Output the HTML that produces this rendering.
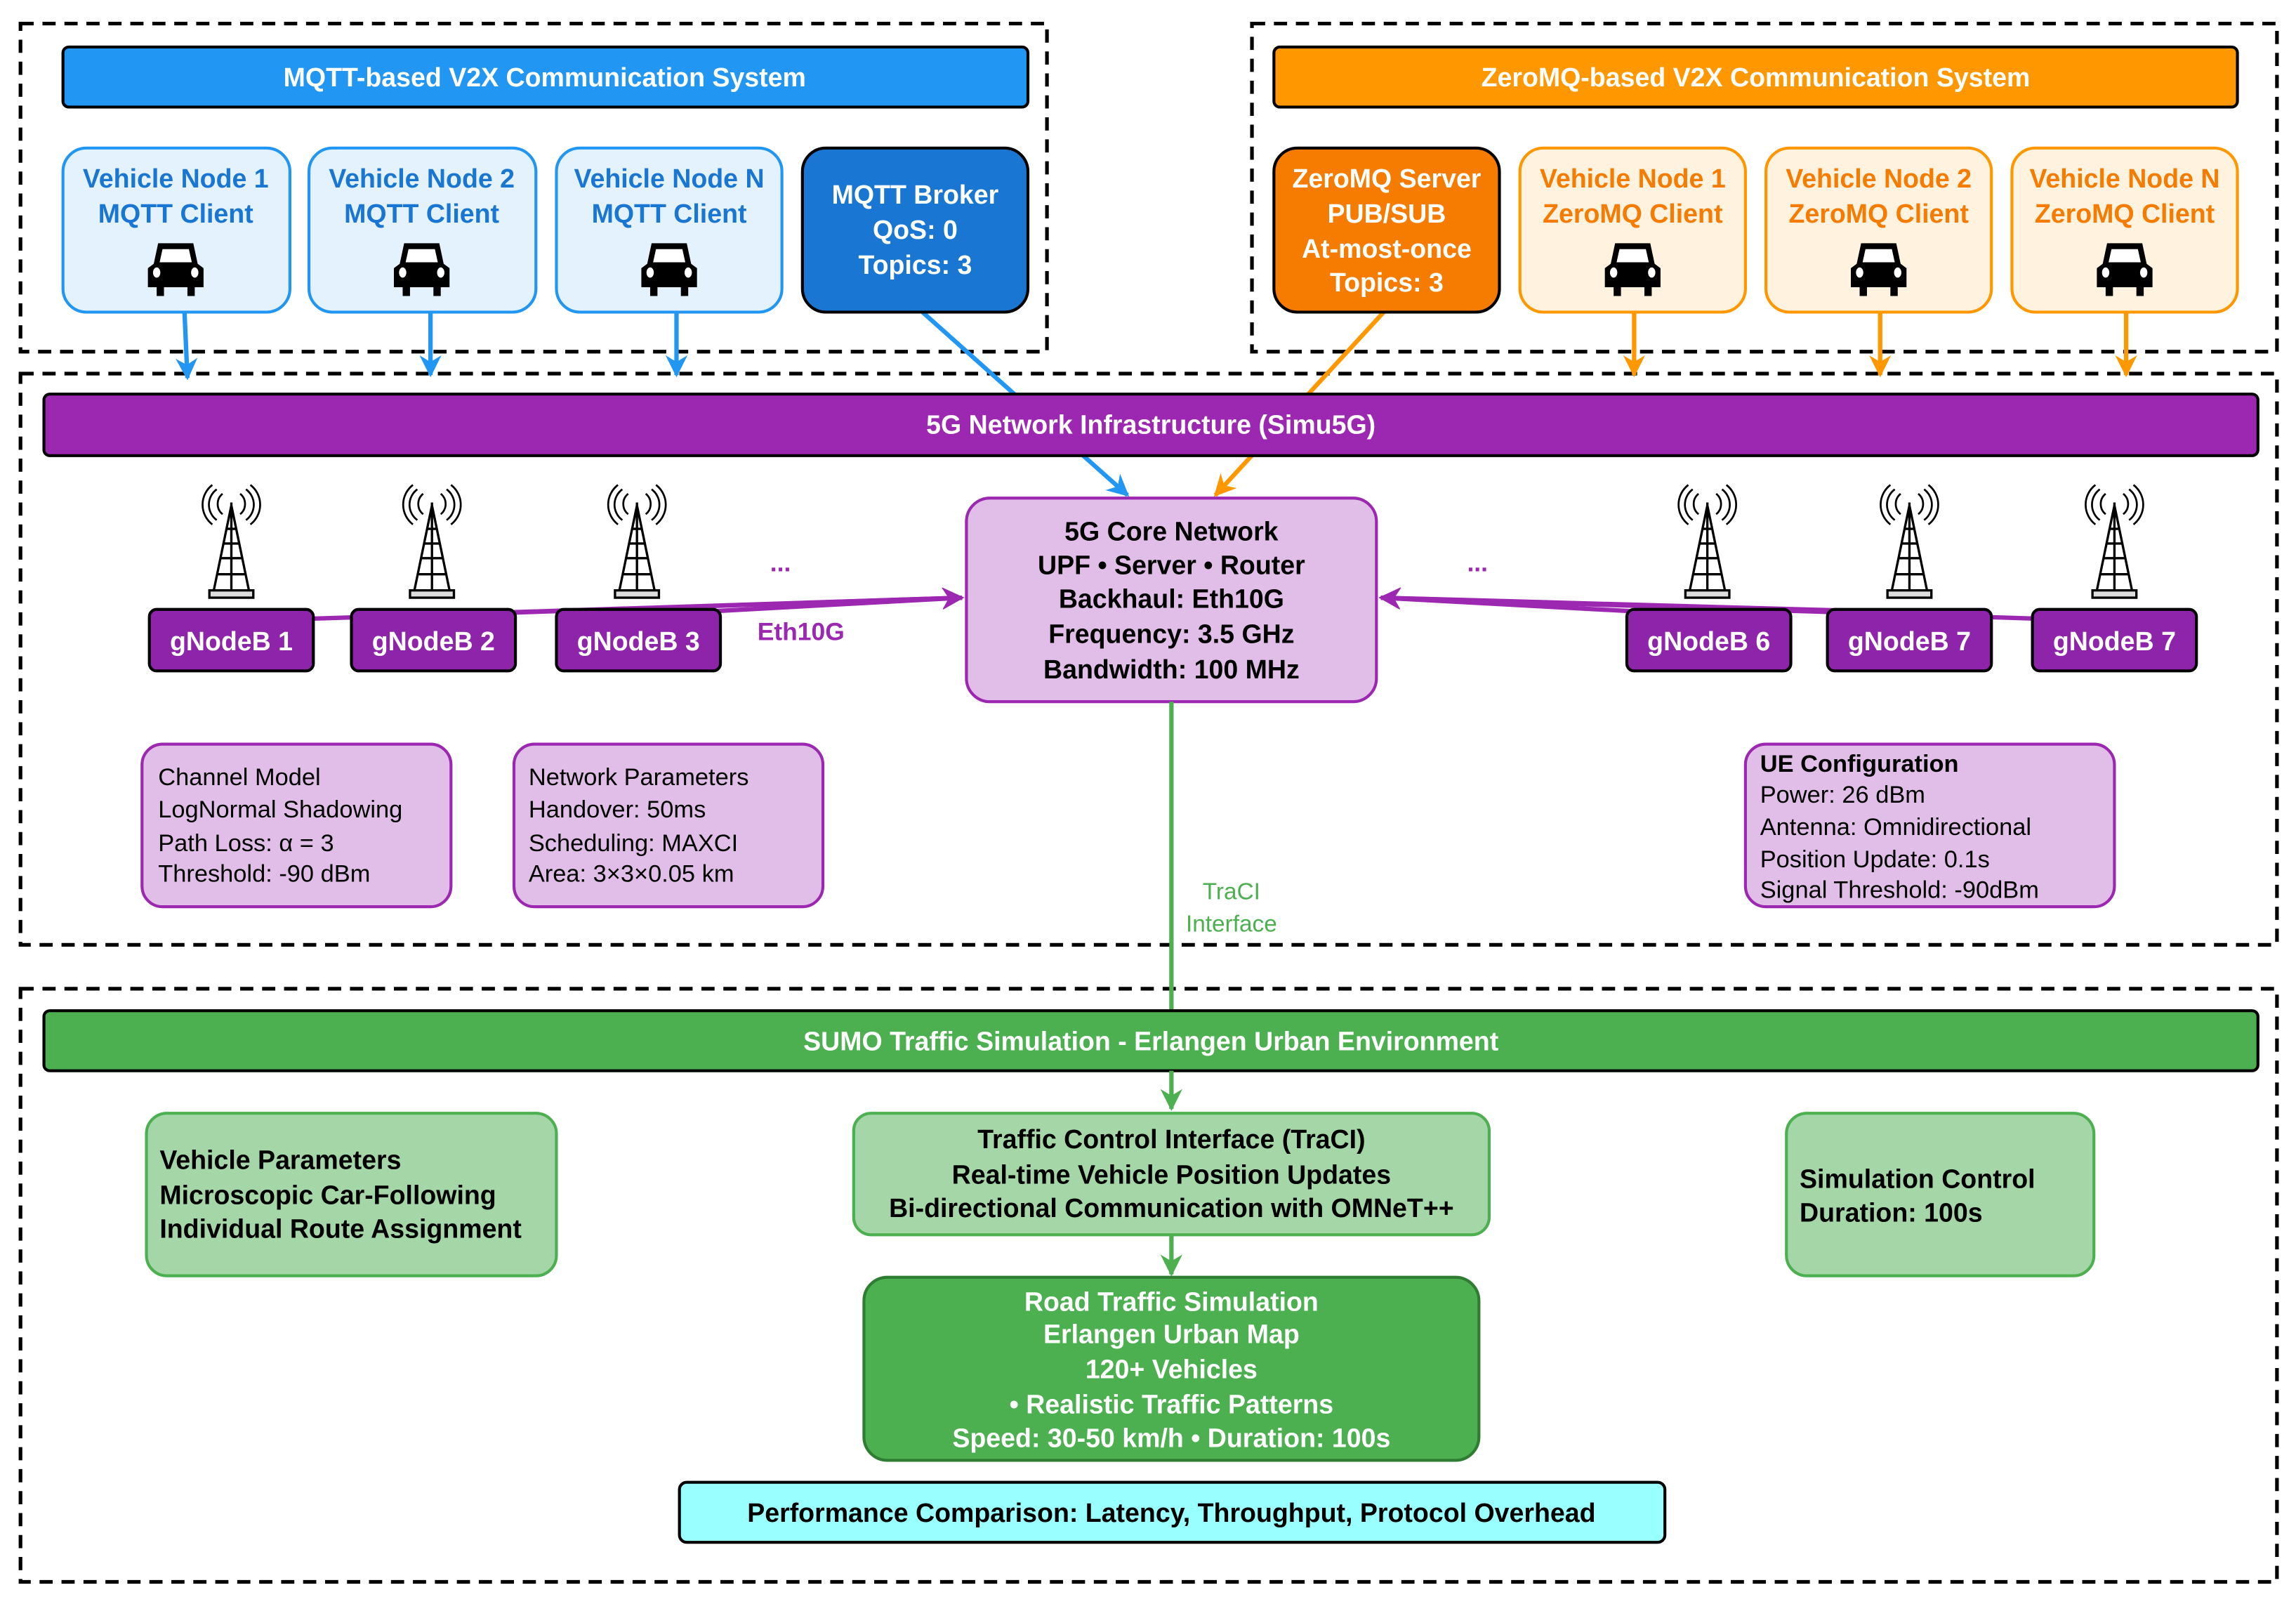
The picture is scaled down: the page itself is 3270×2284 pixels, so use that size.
<!DOCTYPE html>
<html><head><meta charset="utf-8"><style>
html,body{margin:0;padding:0;background:#fff;}
svg{display:block;}
text{font-family:"Liberation Sans",Arial,sans-serif;font-weight:bold;}
</style></head><body>
<svg width="3270" height="2284" viewBox="0 0 1568 1095" xmlns="http://www.w3.org/2000/svg">
<defs>
<marker id="ab" viewBox="0 0 10 10" refX="9" refY="5" markerWidth="5" markerHeight="5" orient="auto"><path d="M0,0 L10,5 L0,10 L3,5 z" fill="#2196F3"/></marker>
<marker id="ao" viewBox="0 0 10 10" refX="9" refY="5" markerWidth="5" markerHeight="5" orient="auto"><path d="M0,0 L10,5 L0,10 L3,5 z" fill="#FF9800"/></marker>
<marker id="ap" viewBox="0 0 10 10" refX="9" refY="5" markerWidth="5" markerHeight="5" orient="auto"><path d="M0,0 L10,5 L0,10 L3,5 z" fill="#9C27B0"/></marker>
<marker id="ag" viewBox="0 0 10 10" refX="9" refY="5" markerWidth="5" markerHeight="5" orient="auto"><path d="M0,0 L10,5 L0,10 L3,5 z" fill="#4CAF50"/></marker>
<g id="car"><path d="M-12,-14 L12,-14 L15,0 L19,3 L19,16 L13,16 L13,22 L8,22 L8,16 L-8,16 L-8,22 L-13,22 L-13,16 L-19,16 L-19,3 L-15,0 Z" fill="#000"/><path d="M-9,-10 L9,-10 L11,-1 L-11,-1 Z" fill="#fff"/><ellipse cx="-13" cy="6" rx="2.5" ry="3.5" fill="#fff"/><ellipse cx="13" cy="6" rx="2.5" ry="3.5" fill="#fff"/></g>
<g id="tower" fill="none" stroke="#000" stroke-width="1.6"><path d="M0,-22 L-12,36 M0,-22 L12,36 M0,-24 L0,36 M-3,-6 L3,-6 M-5,4 L5,4 M-7,14 L7,14 M-9,25 L9,25"/><rect x="-15" y="36" width="30" height="5" fill="#ddd"/><path d="M-6,-30 A9,9 0 0 0 -6,-16 M6,-30 A9,9 0 0 1 6,-16 M-10,-33 A13,13 0 0 0 -10,-12 M10,-33 A13,13 0 0 1 10,-12 M-13,-36 A17,17 0 0 0 -13,-9 M13,-36 A17,17 0 0 1 13,-9" stroke-width="1.3"/></g>
</defs>
<g fill="none" stroke="#000" stroke-width="2.5" stroke-dasharray="9,6">
<rect x="14" y="16" width="701" height="224"/>
<rect x="855" y="16" width="700" height="224"/>
<rect x="14" y="255" width="1541" height="390"/>
<rect x="14" y="675" width="1541" height="405"/>
</g>
<!-- arrows top (behind bar) -->
<g stroke-width="3" fill="none">
<line x1="126" y1="213" x2="128" y2="258" stroke="#2196F3" marker-end="url(#ab)"/>
<line x1="294" y1="213" x2="294" y2="256" stroke="#2196F3" marker-end="url(#ab)"/>
<line x1="462" y1="213" x2="462" y2="256" stroke="#2196F3" marker-end="url(#ab)"/>
<line x1="630" y1="213" x2="770" y2="338" stroke="#2196F3" marker-end="url(#ab)"/>
<line x1="1116" y1="213" x2="1116" y2="256" stroke="#FF9800" marker-end="url(#ao)"/>
<line x1="1284" y1="213" x2="1284" y2="256" stroke="#FF9800" marker-end="url(#ao)"/>
<line x1="1452" y1="213" x2="1452" y2="256" stroke="#FF9800" marker-end="url(#ao)"/>
<line x1="945" y1="213" x2="830" y2="338" stroke="#FF9800" marker-end="url(#ao)"/>
</g>
<!-- headers -->
<rect x="43" y="32" width="659" height="41" rx="4" fill="#2196F3" stroke="#000" stroke-width="2"/>
<text x="372" y="59" fill="#fff" font-size="18" text-anchor="middle">MQTT-based V2X Communication System</text>
<rect x="870" y="32" width="658" height="41" rx="4" fill="#FF9800" stroke="#000" stroke-width="2"/>
<text x="1199" y="59" fill="#fff" font-size="18" text-anchor="middle">ZeroMQ-based V2X Communication System</text>
<!-- MQTT vehicles -->
<g font-size="18" text-anchor="middle" fill="#1976D2">
<rect x="43" y="101" width="155" height="112" rx="16" fill="#E3F2FD" stroke="#2196F3" stroke-width="2"/>
<text x="120" y="128">Vehicle Node 1</text><text x="120" y="152">MQTT Client</text>
<rect x="211" y="101" width="155" height="112" rx="16" fill="#E3F2FD" stroke="#2196F3" stroke-width="2"/>
<text x="288" y="128">Vehicle Node 2</text><text x="288" y="152">MQTT Client</text>
<rect x="380" y="101" width="154" height="112" rx="16" fill="#E3F2FD" stroke="#2196F3" stroke-width="2"/>
<text x="457" y="128">Vehicle Node N</text><text x="457" y="152">MQTT Client</text>
</g>
<use href="#car" x="120" y="180"/><use href="#car" x="288" y="180"/><use href="#car" x="457" y="180"/>
<rect x="548" y="101" width="154" height="112" rx="16" fill="#1976D2" stroke="#000" stroke-width="2"/>
<g font-size="18" text-anchor="middle" fill="#fff"><text x="625" y="139">MQTT Broker</text><text x="625" y="163">QoS: 0</text><text x="625" y="187">Topics: 3</text></g>
<!-- ZeroMQ -->
<rect x="870" y="101" width="154" height="112" rx="16" fill="#F57C00" stroke="#000" stroke-width="2"/>
<g font-size="18" text-anchor="middle" fill="#fff"><text x="947" y="128">ZeroMQ Server</text><text x="947" y="152">PUB/SUB</text><text x="947" y="176">At-most-once</text><text x="947" y="199">Topics: 3</text></g>
<g font-size="18" text-anchor="middle" fill="#F57C00">
<rect x="1038" y="101" width="154" height="112" rx="16" fill="#FFF3E0" stroke="#FF9800" stroke-width="2"/>
<text x="1115" y="128">Vehicle Node 1</text><text x="1115" y="152">ZeroMQ Client</text>
<rect x="1206" y="101" width="154" height="112" rx="16" fill="#FFF3E0" stroke="#FF9800" stroke-width="2"/>
<text x="1283" y="128">Vehicle Node 2</text><text x="1283" y="152">ZeroMQ Client</text>
<rect x="1374" y="101" width="154" height="112" rx="16" fill="#FFF3E0" stroke="#FF9800" stroke-width="2"/>
<text x="1451" y="128">Vehicle Node N</text><text x="1451" y="152">ZeroMQ Client</text>
</g>
<use href="#car" x="1115" y="180"/><use href="#car" x="1283" y="180"/><use href="#car" x="1451" y="180"/>
<!-- 5G bar -->
<rect x="30" y="269" width="1512" height="42" rx="4" fill="#9C27B0" stroke="#000" stroke-width="2"/>
<text x="786" y="296" fill="#fff" font-size="18" text-anchor="middle">5G Network Infrastructure (Simu5G)</text>
<!-- purple links -->
<g stroke="#9C27B0" stroke-width="3" fill="none">
<line x1="130" y1="425" x2="657" y2="408" marker-end="url(#ap)"/>
<line x1="296" y1="420" x2="657" y2="408" marker-end="url(#ap)"/>
<line x1="436" y1="420" x2="657" y2="408" marker-end="url(#ap)"/>
<line x1="1166" y1="420" x2="943" y2="408" marker-end="url(#ap)"/>
<line x1="1304" y1="418" x2="943" y2="408" marker-end="url(#ap)"/>
<line x1="1444" y1="424" x2="943" y2="408" marker-end="url(#ap)"/>
</g>
<text x="547" y="437" fill="#9C27B0" font-size="17" text-anchor="middle">Eth10G</text>
<text x="533" y="390" fill="#9C27B0" font-size="17" text-anchor="middle">...</text>
<text x="1009" y="390" fill="#9C27B0" font-size="17" text-anchor="middle">...</text>
<!-- towers -->
<use href="#tower" x="158" y="367"/><use href="#tower" x="295" y="367"/><use href="#tower" x="435" y="367"/>
<use href="#tower" x="1166" y="367"/><use href="#tower" x="1304" y="367"/><use href="#tower" x="1444" y="367"/>
<g font-size="18" text-anchor="middle" fill="#fff">
<rect x="102" y="416" width="112" height="42" rx="5" fill="#8E24AA" stroke="#000" stroke-width="2"/><text x="158" y="444">gNodeB 1</text>
<rect x="240" y="416" width="112" height="42" rx="5" fill="#8E24AA" stroke="#000" stroke-width="2"/><text x="296" y="444">gNodeB 2</text>
<rect x="380" y="416" width="112" height="42" rx="5" fill="#8E24AA" stroke="#000" stroke-width="2"/><text x="436" y="444">gNodeB 3</text>
<rect x="1111" y="416" width="112" height="42" rx="5" fill="#8E24AA" stroke="#000" stroke-width="2"/><text x="1167" y="444">gNodeB 6</text>
<rect x="1248" y="416" width="112" height="42" rx="5" fill="#8E24AA" stroke="#000" stroke-width="2"/><text x="1304" y="444">gNodeB 7</text>
<rect x="1388" y="416" width="112" height="42" rx="5" fill="#8E24AA" stroke="#000" stroke-width="2"/><text x="1444" y="444">gNodeB 7</text>
</g>
<!-- core -->
<rect x="660" y="340" width="280" height="139" rx="16" fill="#E1BEE7" stroke="#9C27B0" stroke-width="2"/>
<g font-size="18" text-anchor="middle" fill="#000"><text x="800" y="369">5G Core Network</text><text x="800" y="392">UPF • Server • Router</text><text x="800" y="415">Backhaul: Eth10G</text><text x="800" y="439">Frequency: 3.5 GHz</text><text x="800" y="463">Bandwidth: 100 MHz</text></g>
<!-- info boxes -->
<g font-size="16.5" fill="#000">
<rect x="97" y="508" width="211" height="111" rx="14" fill="#E1BEE7" stroke="#9C27B0" stroke-width="2"/>
<text x="108" y="536" style="font-weight:normal">Channel Model</text><text x="108" y="558" style="font-weight:normal">LogNormal Shadowing</text><text x="108" y="581" style="font-weight:normal">Path Loss: α = 3</text><text x="108" y="602" style="font-weight:normal">Threshold: -90 dBm</text>
<rect x="351" y="508" width="211" height="111" rx="14" fill="#E1BEE7" stroke="#9C27B0" stroke-width="2"/>
<text x="361" y="536" style="font-weight:normal">Network Parameters</text><text x="361" y="558" style="font-weight:normal">Handover: 50ms</text><text x="361" y="581" style="font-weight:normal">Scheduling: MAXCI</text><text x="361" y="602" style="font-weight:normal">Area: 3×3×0.05 km</text>
<rect x="1192" y="508" width="252" height="111" rx="14" fill="#E1BEE7" stroke="#9C27B0" stroke-width="2"/>
<text x="1202" y="527" style="font-weight:bold">UE Configuration</text><text x="1202" y="548" style="font-weight:normal">Power: 26 dBm</text><text x="1202" y="570" style="font-weight:normal">Antenna: Omnidirectional</text><text x="1202" y="592" style="font-weight:normal">Position Update: 0.1s</text><text x="1202" y="613" style="font-weight:normal">Signal Threshold: -90dBm</text>
</g>
<!-- traci link -->
<line x1="800" y1="479" x2="800" y2="690" stroke="#4CAF50" stroke-width="3"/>
<g font-size="16" fill="#4CAF50" text-anchor="middle"><text x="841" y="614" style="font-weight:normal">TraCI</text><text x="841" y="636" style="font-weight:normal">Interface</text></g>
<!-- SUMO -->
<rect x="30" y="690" width="1512" height="41" rx="4" fill="#4CAF50" stroke="#000" stroke-width="2"/>
<text x="786" y="717" fill="#fff" font-size="18" text-anchor="middle">SUMO Traffic Simulation - Erlangen Urban Environment</text>
<line x1="800" y1="731" x2="800" y2="757" stroke="#4CAF50" stroke-width="3" marker-end="url(#ag)"/>
<rect x="583" y="760" width="434" height="83" rx="12" fill="#A5D6A7" stroke="#4CAF50" stroke-width="2"/>
<g font-size="18" text-anchor="middle" fill="#000"><text x="800" y="784">Traffic Control Interface (TraCI)</text><text x="800" y="808">Real-time Vehicle Position Updates</text><text x="800" y="831">Bi-directional Communication with OMNeT++</text></g>
<line x1="800" y1="843" x2="800" y2="870" stroke="#4CAF50" stroke-width="3" marker-end="url(#ag)"/>
<rect x="590" y="872" width="420" height="125" rx="16" fill="#4CAF50" stroke="#2E7D32" stroke-width="2"/>
<g font-size="18" text-anchor="middle" fill="#fff"><text x="800" y="895">Road Traffic Simulation</text><text x="800" y="917">Erlangen Urban Map</text><text x="800" y="941">120+ Vehicles</text><text x="800" y="965">• Realistic Traffic Patterns</text><text x="800" y="988">Speed: 30-50 km/h • Duration: 100s</text></g>
<rect x="100" y="760" width="280" height="111" rx="14" fill="#A5D6A7" stroke="#4CAF50" stroke-width="2"/>
<g font-size="18" fill="#000"><text x="109" y="798">Vehicle Parameters</text><text x="109" y="822">Microscopic Car-Following</text><text x="109" y="845">Individual Route Assignment</text></g>
<rect x="1220" y="760" width="210" height="111" rx="14" fill="#A5D6A7" stroke="#4CAF50" stroke-width="2"/>
<g font-size="18" fill="#000"><text x="1229" y="811">Simulation Control</text><text x="1229" y="834">Duration: 100s</text></g>
<rect x="464" y="1012" width="673" height="41" rx="5" fill="#99FFFF" stroke="#000" stroke-width="2"/>
<text x="800" y="1039" font-size="18" text-anchor="middle" fill="#000">Performance Comparison: Latency, Throughput, Protocol Overhead</text>
</svg>
</body></html>
